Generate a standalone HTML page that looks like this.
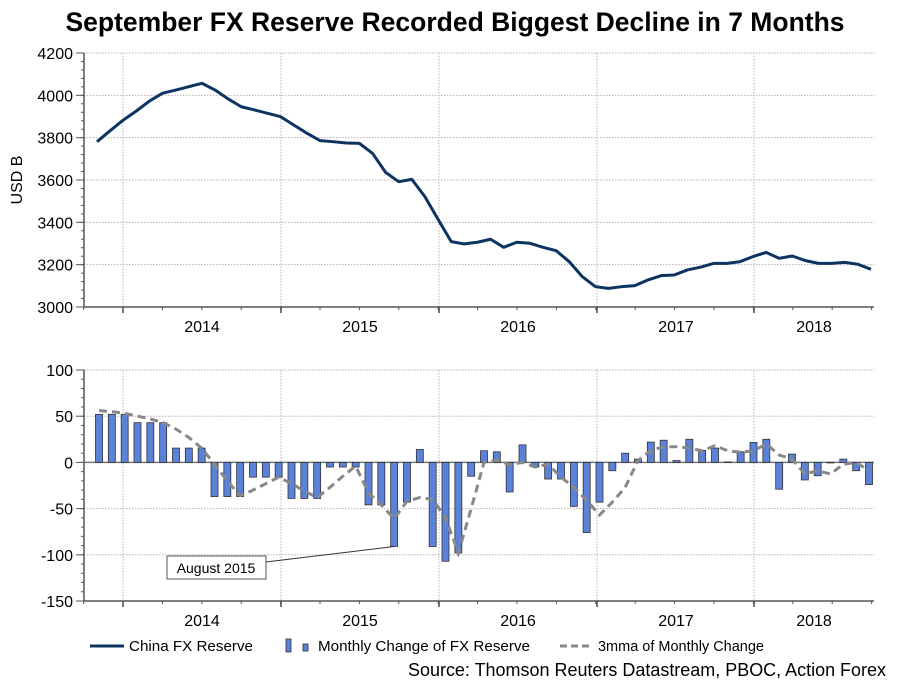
<!DOCTYPE html>
<html><head><meta charset="utf-8"><style>
html,body{margin:0;padding:0;background:#fff;}
svg{display:block;font-family:"Liberation Sans",Arial,sans-serif;}
</style></head><body>
<svg id="chart" width="909" height="682" viewBox="0 0 909 682">
<text x="455" y="31" text-anchor="middle" font-size="26.5" font-weight="bold" fill="#000">September FX Reserve Recorded Biggest Decline in 7 Months</text>
<g id="topPanel"></g>
<g id="botPanel"></g>
<g>
 <g>
  <line x1="90" y1="646" x2="124" y2="646" stroke="#0d3461" stroke-width="3"/>
  <text x="129" y="651" font-size="15" textLength="124" lengthAdjust="spacingAndGlyphs" fill="#000">China FX Reserve</text>
 </g>
 <g>
  <rect x="286" y="639" width="5" height="13" fill="#5b82d9" stroke="#333" stroke-width="0.8"/>
  <rect x="303" y="644" width="5" height="7" fill="#5b82d9" stroke="#333" stroke-width="0.8"/>
  <text x="318" y="651" font-size="15" textLength="212" lengthAdjust="spacingAndGlyphs" fill="#000">Monthly Change of FX Reserve</text>
 </g>
 <g>
  <line x1="560" y1="646" x2="592" y2="646" stroke="#888" stroke-width="3" stroke-dasharray="7,4"/>
  <text x="598" y="651" font-size="15" textLength="166" lengthAdjust="spacingAndGlyphs" fill="#000">3mma of Monthly Change</text>
 </g>
</g>
<text x="886" y="676" text-anchor="end" font-size="18" textLength="478" lengthAdjust="spacingAndGlyphs" fill="#000">Source: Thomson Reuters Datastream, PBOC, Action Forex</text>
</svg>
<script>
const reserveValues = [3781,3833,3883,3926,3973,4010,4025,4041,4057,4025,3983,3946,3931,3915,3899,3860,3821,3786,3781,3775,3773,3726,3636,3592,3603,3521,3414,3309,3298,3306,3320,3282,3306,3301,3282,3266,3214,3143,3096,3088,3096,3101,3128,3148,3151,3175,3188,3206,3206,3214,3238,3258,3230,3241,3219,3206,3206,3211,3202,3178];
const monthlyChange = [52,52,52,43,43,43,15.5,15.5,15.5,-37,-37,-37,-16,-16,-16,-39,-39,-39,-5,-5,-5,-46,-46,-91,-43,14,-91,-107,-98,-15,12.6,11.5,-32,19,-5,-18,-18,-47.6,-76,-43,-9,10,3.6,22,24,2,25,13,15.5,0.5,11.5,21.6,25,-29,9,-19,-14.4,0,3.6,-9,-24];
const ma3Values = [56,55,53,50,47,43,36,27,15.5,-2,-20,-36,-30,-23,-16,-23,-31,-38,-27,-15,-4,-33,-46,-61,-42,-38,-40,-60,-98,-50,0,2.5,-2.5,0,-5,-2,-16,-27,-41,-57,-43,-27,2,13,17,17,15.5,12.6,18,12.6,11,12.6,20,8,3.6,-12.6,-9,-12.6,-2,0,-9];
const topTicks = [3000,3200,3400,3600,3800,4000,4200];
const botTicks = [-150,-100,-50,0,50,100];
const yearLabels = ["2014","2015","2016","2017","2018"];

const NS="http://www.w3.org/2000/svg";
function mk(parent,tag,attrs){const e=document.createElementNS(NS,tag);for(const k in attrs)e.setAttribute(k,attrs[k]);parent.appendChild(e);return e;}
const L=84,R=874;
const majorX=[123,281,439,597,754];
const yearMid=[202,360,518,676,814];
const topG=document.getElementById('topPanel'), botG=document.getElementById('botPanel');
const yT=v=>307-(v-3000)*(254/1200);
const yB=v=>462.4-v*0.924;
const xTop=i=>97+i*(871-97)/(reserveValues.length-1);
const xBot=i=>99+i*(869-99)/(monthlyChange.length-1);

function panel(g,y0,y1,ticks,yf,minorStep,lo,hi){
  ticks.forEach(t=>{const y=yf(t); if(Math.abs(y-y1)>1){
    const gl=mk(g,'line',{x1:L,x2:R,y1:y,y2:y,stroke:'#b8b0b8','stroke-width':1,'stroke-dasharray':'1.5,1.5'});
    
    }
    const tx=mk(g,'text',{x:73,y:y+6,'text-anchor':'end','font-size':16,fill:'#000'});
    tx.textContent=t;
    
    
    mk(g,'line',{x1:L-8,x2:L,y1:y,y2:y,stroke:'#555'});
  });
  for(let v=lo;v<=hi;v+=minorStep){const y=yf(v);mk(g,'line',{x1:L-3,x2:L,y1:y,y2:y,stroke:'#555'});}
  majorX.forEach(x=>{
    const gl=mk(g,'line',{x1:x,x2:x,y1:y0,y2:y1,stroke:'#b8b0b8','stroke-dasharray':'1.5,1.5'});
    
    
    mk(g,'line',{x1:x,x2:x,y1:y1,y2:y1+6,stroke:'#444','stroke-width':1.5});
  });
  for(let x=majorX[0]-39.4;x<=R+1;x+=39.4){mk(g,'line',{x1:x,x2:x,y1:y1,y2:y1+3,stroke:'#555'});}
  yearLabels.forEach((lab,i)=>{const t=mk(g,'text',{x:yearMid[i],y:y1+25,'text-anchor':'middle','font-size':16,fill:'#000'});t.textContent=lab;
    
    });
  const ax=mk(g,'path',{d:`M${L} ${y0}V${y1}H${R}`,fill:'none',stroke:'#555','stroke-width':1.5});
  
  
}
panel(topG,53,307,topTicks,yT,40,3000,4200);
panel(botG,370,601,botTicks,yB,10,-150,100);

const yl=mk(topG,'text',{x:0,y:0,transform:'translate(22,180) rotate(-90)','text-anchor':'middle','font-size':16,fill:'#000'});
yl.textContent='USD B';



const rl=mk(topG,'polyline',{points:reserveValues.map((v,i)=>xTop(i)+','+yT(v)).join(' '),fill:'none',stroke:'#0d3461','stroke-width':3,'stroke-linejoin':'round'});



mk(botG,'line',{x1:L,x2:R,y1:yB(0),y2:yB(0),stroke:'#777','stroke-width':1.5});
monthlyChange.forEach((v,i)=>{
  const y=Math.min(yB(0),yB(v)),h=Math.abs(yB(v)-yB(0));
  const b=mk(botG,'rect',{x:xBot(i)-3.5,y:y,width:7,height:Math.max(h,0.5),fill:'#5b82d9',stroke:'#333','stroke-width':0.8});
  
  
});
const ml=mk(botG,'polyline',{points:ma3Values.map((v,i)=>xBot(i)+','+yB(v)).join(' '),fill:'none',stroke:'#888','stroke-width':3,'stroke-dasharray':'8,5'});



const aIdx=23;
mk(botG,'line',{x1:266,y1:562,x2:xBot(aIdx),y2:yB(monthlyChange[aIdx]),stroke:'#333','stroke-width':1});
const ab=mk(botG,'rect',{x:167,y:556,width:99,height:23,fill:'#fff',stroke:'#555','stroke-width':1});


const at=mk(botG,'text',{x:216,y:573,'text-anchor':'middle','font-size':14,fill:'#000'});
at.textContent='August 2015';


</script>
</body></html>
